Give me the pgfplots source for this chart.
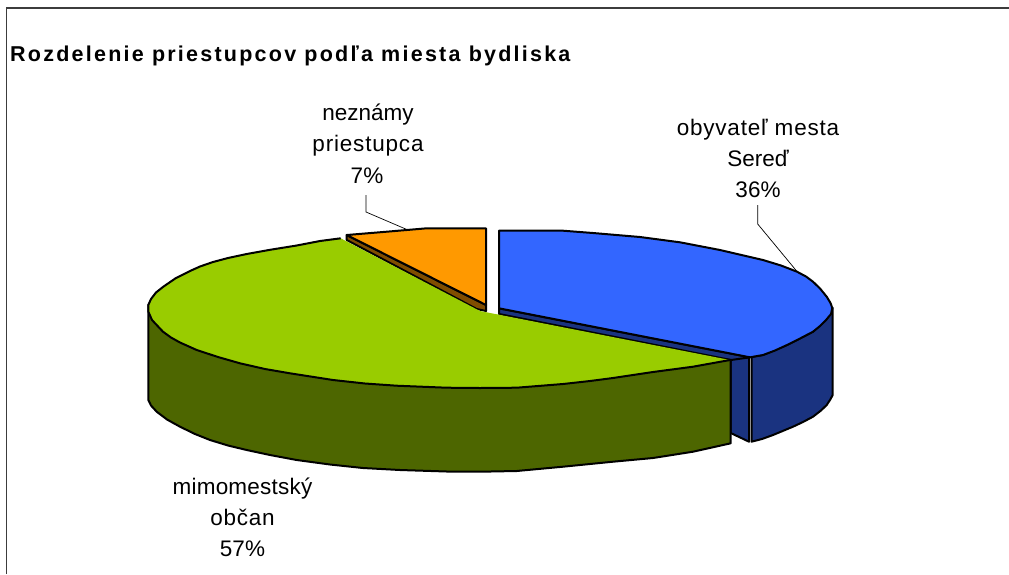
\documentclass[border=0pt]{standalone}
\usepackage{pgfplots}
\pgfplotsset{compat=1.18}
\usepackage{fontspec}
\setmainfont{Liberation Sans}
\definecolor{cblue}{HTML}{3366FF}
\definecolor{cbluedk}{HTML}{1A3380}
\definecolor{cgreen}{HTML}{99CC00}
\definecolor{cgreendk}{HTML}{4D6600}
\definecolor{corange}{HTML}{FF9900}
\definecolor{cbrown}{HTML}{804D00}
\tikzset{
  pie/.style={draw=black, line width=2pt, line join=round},
  lead/.style={draw=black, line width=0.7pt},
  lab/.style={anchor=base, font=\fontsize{22.5}{24}\selectfont, inner sep=0pt}
}
\begin{document}
\begin{tikzpicture}[x=1pt,y=1pt]
\begin{axis}[
  at={(0,0)}, anchor=south west, scale only axis,
  width=1009pt, height=574pt,
  xmin=0, xmax=1009, ymin=0, ymax=574, y dir=reverse,
  hide axis, clip=true,
  every axis plot/.append style={no markers}
]
% page background and frame
\addplot[fill=white, draw=none] coordinates {(0,0) (1009,0) (1009,574) (0,574)} -- cycle;
\addplot[draw={rgb,255:red,60;green,60;blue,60}, line width=1.6pt] coordinates {(6.5,574) (6.5,8) (1009,8)};
% blue side and inner faces
\addplot[pie, fill=cbluedk] coordinates {(751.5,357) (751.5,441.7) (762,439) (773,435) (793,426.7) (803,422) (813,416.7) (821,410.5) (826.7,405) (830,400) (832.7,395) (832.7,308) (826,320) (813,331.7) (787,345) (763,355)} -- cycle;
\addplot[pie, fill=cbluedk] coordinates {(730.7,358) (749,357.5) (749,441.7) (730.7,433)} -- cycle;
\addplot[pie, fill=cbluedk] coordinates {(499,308.3) (750,357.3) (731,360) (499,314)} -- cycle;
% blue top
\addplot[pie, fill=cblue] coordinates {(499,230.7) (563,230.7) (593,233) (640,237) (680,242.3) (720,250) (763,260) (781,265.5) (797,271.7) (806,276.5) (813,281.7) (820,288.5) (826.7,296.7) (830.5,303) (832.3,308) (831,314) (826,320) (820,326) (813,331.7) (800,338.5) (787,345) (775,350.5) (763,355) (750,357.3) (499,308.3)} -- cycle;
% orange
\addplot[pie, fill=cbrown] coordinates {(346.7,235) (486,305) (486,311) (476.7,309) (346.7,240)} -- cycle;
\addplot[pie, fill=corange] coordinates {(486,228.3) (426.7,228.3) (386.7,231.7) (346.7,235) (486,305)} -- cycle;
% green side
\addplot[pie, fill=cgreendk] coordinates {(148.3,305) (148.3,400) (151,405.5) (156.7,411.7) (167,419.5) (180,426.7) (195,434) (210,440) (228,445.5) (246.7,450) (270,455) (296.7,460) (330,464.5) (363,468) (400,470) (446.7,471.5) (480,471.7) (516.7,471) (563,466.7) (613,461.7) (653,458) (693,451.7) (730.7,443.3) (730.7,360)} -- cycle;
% green top
\addplot[draw=none, fill=cgreen] coordinates {(340.7,238.3) (320,241) (296.7,245.5) (270,249.8) (246.7,254) (228,258) (213,262) (200,266.5) (190,271) (176,278) (163.3,286.7) (156,292.5) (151,299) (148.3,305) (148.5,312) (152,320) (163,331.7) (171,337.5) (180,342.5) (196.7,350) (218,357) (240,363.3) (265,369) (290,373.3) (333,380) (365,383.5) (396.7,385.7) (446.7,387.7) (480,388) (516.7,387.7) (563,384) (590,381) (613,378) (653,372) (693,366.7) (730,360) (480,311)} -- cycle;
\addplot[pie] coordinates {(340.7,238.3) (320,241) (296.7,245.5) (270,249.8) (246.7,254) (228,258) (213,262) (200,266.5) (190,271) (176,278) (163.3,286.7) (156,292.5) (151,299) (148.3,305) (148.5,312) (152,320) (163,331.7) (171,337.5) (180,342.5) (196.7,350) (218,357) (240,363.3) (265,369) (290,373.3) (333,380) (365,383.5) (396.7,385.7) (446.7,387.7) (480,388) (516.7,387.7) (563,384) (590,381) (613,378) (653,372) (693,366.7) (730,360)};
% leaders
\addplot[lead] coordinates {(366,195) (366,212) (408,230)};
\addplot[lead] coordinates {(757.7,205) (757.7,224) (798,272.7)};
% text
\node[anchor=base west, inner sep=0pt, font=\fontsize{21.5}{24}\selectfont\bfseries] at (axis cs:10,61) {\addfontfeature{LetterSpace=10.4}Rozdelenie priestupcov podľa miesta bydliska};
\node[lab] at (axis cs:368,120) {neznámy};
\node[lab] at (axis cs:368,151) {\addfontfeature{LetterSpace=3.6}priestupca};
\node[lab] at (axis cs:367,183) {7\%};
\node[lab] at (axis cs:758,135) {\addfontfeature{LetterSpace=3.5}obyvateľ mesta};
\node[lab] at (axis cs:758,166) {Sereď};
\node[lab] at (axis cs:758,197) {36\%};
\node[lab] at (axis cs:242.5,494) {\addfontfeature{LetterSpace=1}mimomestský};
\node[lab] at (axis cs:242.5,525) {\addfontfeature{LetterSpace=3.5}občan};
\node[lab] at (axis cs:242.5,556) {57\%};
\end{axis}
\end{tikzpicture}
\end{document}
